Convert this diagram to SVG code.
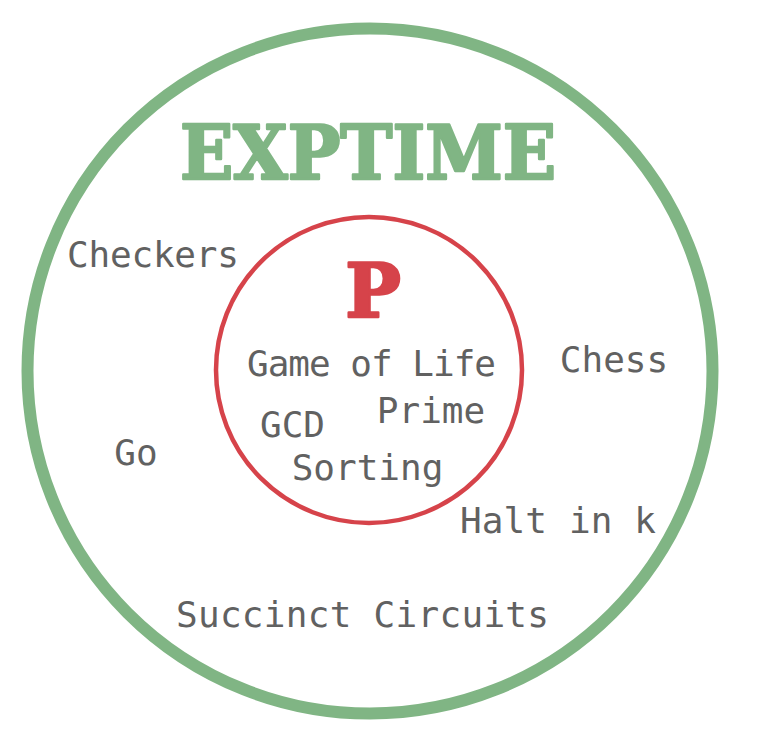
<svg xmlns="http://www.w3.org/2000/svg" width="783" height="752" viewBox="0 0 783 752">
<style>
.lbl{font-family:"DejaVu Sans Mono","Liberation Mono",monospace;font-size:36px;fill:#616161;text-anchor:middle}
.title{font-family:"DejaVu Serif","Liberation Serif",serif;font-weight:bold;font-size:74px;text-anchor:middle;stroke-width:2.5;stroke-linejoin:round}
</style>
<rect width="783" height="752" fill="#ffffff"/>
<g id="exptime">
<circle cx="370" cy="371" r="342.5" fill="none" stroke="#80b584" stroke-width="12"/>
<text class="title" x="368" y="179" fill="#80b584" stroke="#80b584" textLength="376" lengthAdjust="spacingAndGlyphs">EXPTIME</text>
</g>
<g id="p">
<circle cx="369" cy="370" r="153" fill="none" stroke="#d6434a" stroke-width="4.5"/>
<text class="title" x="373" y="317" fill="#d6434a" stroke="#d6434a">P</text>
</g>
<g id="labels">
<text class="lbl" x="153" y="267" textLength="172">Checkers</text>
<text class="lbl" x="371.5" y="376" textLength="249">Game of Life</text>
<text class="lbl" x="431" y="423">Prime</text>
<text class="lbl" x="292.5" y="437">GCD</text>
<text class="lbl" x="367.5" y="480">Sorting</text>
<text class="lbl" x="614" y="372">Chess</text>
<text class="lbl" x="136" y="465">Go</text>
<text class="lbl" x="558" y="533" textLength="196">Halt in k</text>
<text class="lbl" x="362.5" y="627" textLength="373">Succinct Circuits</text>
</g>
</svg>
